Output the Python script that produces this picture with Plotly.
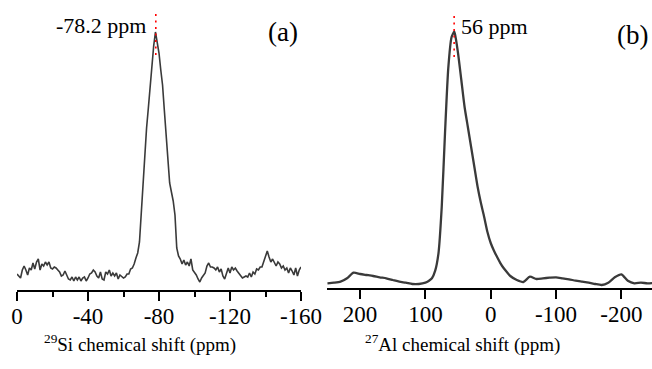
import plotly.graph_objects as go

# ---------------- data ----------------
# 29Si spectrum: sampled every 1 ppm from 0 to -160 ppm (intensity in arbitrary units)
ppm_si = list(range(0, -161, -1))
intensity_si = [
    16, 14, 12, 20, 24, 20, 15, 22, 20, 27,
    21, 28, 31, 20, 26, 24, 28, 25, 28, 22,
    21, 23, 22, 20, 18, 14, 15, 19, 14, 11,
    10, 13, 9, 13, 10, 13, 9, 12, 13, 9,
    12, 16, 17, 20, 18, 14, 12, 18, 11, 10,
    18, 16, 20, 14, 17, 14, 17, 11, 15, 13,
    12, 13, 16, 16, 21, 22, 26, 32, 37, 48,
    79, 109, 143, 162, 182, 204, 227, 244, 258, 248,
    237, 220, 205, 180, 154, 130, 107, 98, 89, 75,
    42, 34, 31, 26, 30, 25, 28, 24, 31, 20,
    18, 15, 11, 8, 12, 14, 17, 24, 27, 23,
    23, 22, 20, 23, 18, 21, 14, 11, 17, 22,
    17, 23, 20, 22, 19, 17, 14, 12, 13, 14,
    13, 17, 13, 18, 16, 21, 20, 23, 23, 29,
    35, 39, 33, 28, 31, 28, 24, 28, 26, 22,
    24, 20, 22, 17, 22, 19, 15, 22, 14, 20, 23,
]

# 27Al spectrum
ppm_al = [250, 240, 230, 220, 210, 200, 190, 180, 170, 160, 150, 140, 130, 120, 110,
          100, 95, 90, 85, 80, 75, 70, 65, 60, 56, 55, 50, 45, 40, 35, 30, 25, 20,
          15, 10, 5, 0, -5, -10, -15, -20, -25, -30, -40, -50, -60, -70, -80, -90,
          -100, -110, -120, -130, -140, -150, -160, -170, -180, -190, -200, -210,
          -220, -230, -240, -248]
intensity_al = [4.7, 5.3, 6.3, 9.7, 15.3, 14, 13, 12, 10.7, 9.7, 8, 6.3, 5.3, 4, 4,
                5.3, 7, 9.7, 17.3, 34.7, 81, 154.7, 219.7, 250.7, 256.3, 254.7, 234.7,
                208, 181, 161, 141, 121, 101, 85, 71, 56, 45, 37.3, 30.7, 24.7, 19.7,
                15.7, 12, 8, 6, 11.3, 9, 9.7, 10.3, 10.7, 9.7, 8.7, 7.3, 6.3, 5.3, 4,
                3, 5.3, 10.7, 13.7, 7.3, 4.7, 5.3, 4.7, 5]

si_ticks = [0, -40, -80, -120, -160]
si_ticktext = ["0", "-40", "-80", "-120", "-160"]
al_ticks = [200, 100, 0, -100, -200]
al_ticktext = ["200", "100", "0", "-100", "-200"]

si_peak = -78.2
al_peak = 56
si_peak_label = "-78.2 ppm"
al_peak_label = "56 ppm"
si_title = "<sup>29</sup>Si chemical shift (ppm)"
al_title = "<sup>27</sup>Al chemical shift (ppm)"

# ---------------- figure ----------------
W, H = 652, 369
FONT = "Liberation Serif, Times New Roman, serif"
LINE = "#3a3a3a"

fig = go.Figure()
fig.add_trace(go.Scatter(x=ppm_si, y=intensity_si, mode="lines",
                         line=dict(color=LINE, width=1.6), xaxis="x", yaxis="y",
                         hoverinfo="skip"))
fig.add_trace(go.Scatter(x=[si_peak, si_peak], y=[235, 276], mode="lines",
                         line=dict(color="red", width=1.6, dash="2px,4.5px"),
                         xaxis="x", yaxis="y", hoverinfo="skip"))
fig.add_trace(go.Scatter(x=ppm_al, y=intensity_al, mode="lines",
                         line=dict(color=LINE, width=2.3, shape="spline", smoothing=0.6),
                         xaxis="x2", yaxis="y2", hoverinfo="skip"))
fig.add_trace(go.Scatter(x=[al_peak, al_peak], y=[231, 274], mode="lines",
                         line=dict(color="red", width=1.6, dash="2px,4.5px"),
                         xaxis="x2", yaxis="y2", hoverinfo="skip"))

axis_common = dict(showgrid=False, zeroline=False, showline=True, linecolor="black",
                   linewidth=1.5, ticks="outside", tickcolor="black", tickwidth=1.5,
                   tickfont=dict(family=FONT, size=23, color="black"),
                   ticklabelstandoff=-4, automargin=False)

fig.update_layout(
    width=W, height=H,
    margin=dict(l=0, r=0, t=0, b=0, autoexpand=False),
    paper_bgcolor="white", plot_bgcolor="white",
    showlegend=False,
    xaxis=dict(domain=[17 / W, 301 / W], range=[0, -160], anchor="y",
               tickvals=si_ticks, ticktext=si_ticktext, ticklen=9,
               minor=dict(dtick=20, tick0=0, ticklen=5, ticks="outside",
                          tickcolor="black", tickwidth=1.5),
               **axis_common),
    yaxis=dict(domain=[(H - 290) / H, 1], range=[0, 290], visible=False, anchor="x",
               automargin=False),
    xaxis2=dict(domain=[327 / W, 1], range=[250.7, -247], anchor="y2",
                tickvals=al_ticks, ticktext=al_ticktext, ticklen=9,
                **axis_common),
    yaxis2=dict(domain=[(H - 288) / H, 1], range=[0, 288], visible=False, anchor="x2",
                automargin=False),
)

def px(xp, yp):
    return xp / W, (H - yp) / H

annos = [
    (si_peak_label, 148, 25, "right", 22),
    ("(a)", 283, 32, "center", 27),
    (al_peak_label, 459, 27, "left", 22),
    ("(b)", 632, 35, "center", 27),
    (si_title, 140, 343, "center", 19),
    (al_title, 462, 343, "center", 19),
]
for text, xp, yp, xanchor, size in annos:
    ax, ay = px(xp, yp)
    fig.add_annotation(text=text, x=ax, y=ay, xref="paper", yref="paper",
                       xanchor=xanchor, yanchor="middle", showarrow=False,
                       font=dict(family=FONT, size=size, color="black"))

fig.write_html("out.html")
